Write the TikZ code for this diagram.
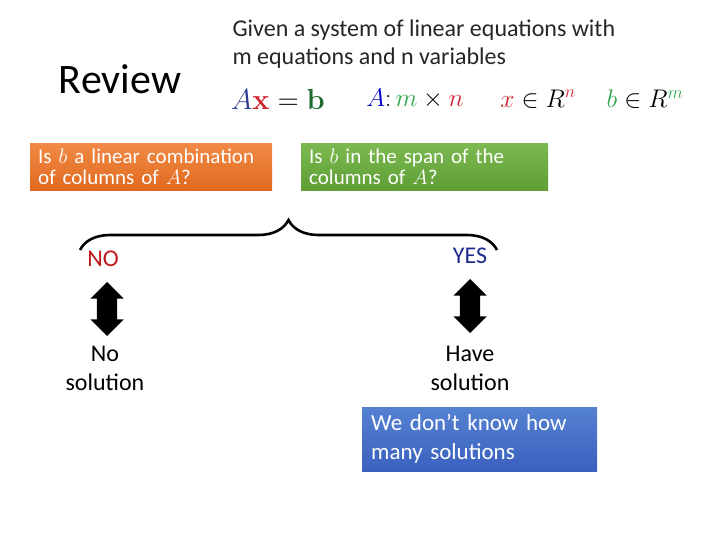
\documentclass[tikz,border=0pt]{standalone}
\usepackage{fix-cm}
\usepackage[no-math]{fontspec}
\setmainfont{Carlito}
\usetikzlibrary{shapes.arrows,decorations.pathreplacing}

\definecolor{mathblue}{HTML}{2B3A8C}
\definecolor{mathred}{HTML}{D0202A}
\definecolor{mathgreen}{HTML}{1E6B2E}
\definecolor{lightgreen}{HTML}{2DA84A}
\definecolor{noRed}{HTML}{C0161C}
\definecolor{yesBlue}{HTML}{1E2A8C}
\definecolor{orangeTop}{HTML}{F28A45}
\definecolor{orangeBot}{HTML}{E0691F}
\definecolor{greenTop}{HTML}{7CB951}
\definecolor{greenBot}{HTML}{5E9E35}
\definecolor{blueTop}{HTML}{5581D1}
\definecolor{blueBot}{HTML}{3A61BF}

\begin{document}
\begin{tikzpicture}[x=1pt, y=-1pt,
    qbox/.style={text=white, align=left, anchor=north west, inner xsep=8pt,
        font=\fontsize{21}{21.5}\selectfont},
    answer/.style={font=\fontsize{24}{29}\selectfont, align=center},
    bigarrow/.style={double arrow, fill=black, rotate=90, inner xsep=0pt, inner ysep=10pt,
        minimum height=54pt, minimum width=33pt, double arrow head extend=6.5pt}]

\useasboundingbox (0,0) rectangle (720,540);

% title and statement
\node (review) at (120,79) {\fontsize{42}{42}\selectfont Review};
\node[anchor=west, align=left, text=black!85, font=\fontsize{24}{28}\selectfont] (given) at (229,44)
    {Given a system of linear equations with\\m equations and n variables};

\node (eq) at (278,99) {\fontsize{29}{29}\selectfont
    $\color{mathblue}A\color{mathred}\mathbf{x}\color{black}=\color{mathgreen}\mathbf{b}$};
\node (dims) at (415,99) {\fontsize{25.5}{25.5}\selectfont
    $\color{blue!80!black}A\color{black}\colon\color{lightgreen}m\color{black}\times\color{mathred}n$};
\node (xin) at (538,99) {\fontsize{25.5}{25.5}\selectfont
    $\color{mathred}x\color{black}\in R^{\color{mathred}n}$};
\node (bin) at (645,99) {\fontsize{25.5}{25.5}\selectfont
    $\color{lightgreen}b\color{black}\in R^{\color{lightgreen}m}$};

% the two questions
\node[qbox, top color=orangeTop, bottom color=orangeBot,
    minimum width=242pt, minimum height=47pt, text width=226pt] (lincomb) at (30,143)
    {Is $b$ a linear combination\\of columns of $A$?};
\node[qbox, top color=greenTop, bottom color=greenBot,
    minimum width=247pt, minimum height=47pt, text width=231pt] (span) at (301,143)
    {Is $b$ in the span of the\\columns of $A$?};

\coordinate (braceL) at (80,250);
\coordinate (braceR) at (497,250);
\draw[line width=2.6pt, decorate, decoration={brace, amplitude=30pt}] (braceL) -- (braceR);

% answers
\node[answer, text=noRed] (no) at (103,259) {NO};
\node[answer, text=yesBlue] (yes) at (470,256) {YES};

\node[bigarrow] (arrNo) at (107,309) {};
\node[bigarrow] (arrYes) at (470,306) {};

\node[answer] (nosol) at (105,368) {No\\solution};
\node[answer] (havesol) at (470,368) {Have\\solution};

\node[text=white, align=left, anchor=north west, inner xsep=9pt,
    top color=blueTop, bottom color=blueBot,
    minimum width=235pt, minimum height=64pt, text width=217pt,
    font=\fontsize{23}{29}\selectfont] (unknown) at (362,407)
    {We don’t know how\\many solutions};

\end{tikzpicture}
\end{document}
